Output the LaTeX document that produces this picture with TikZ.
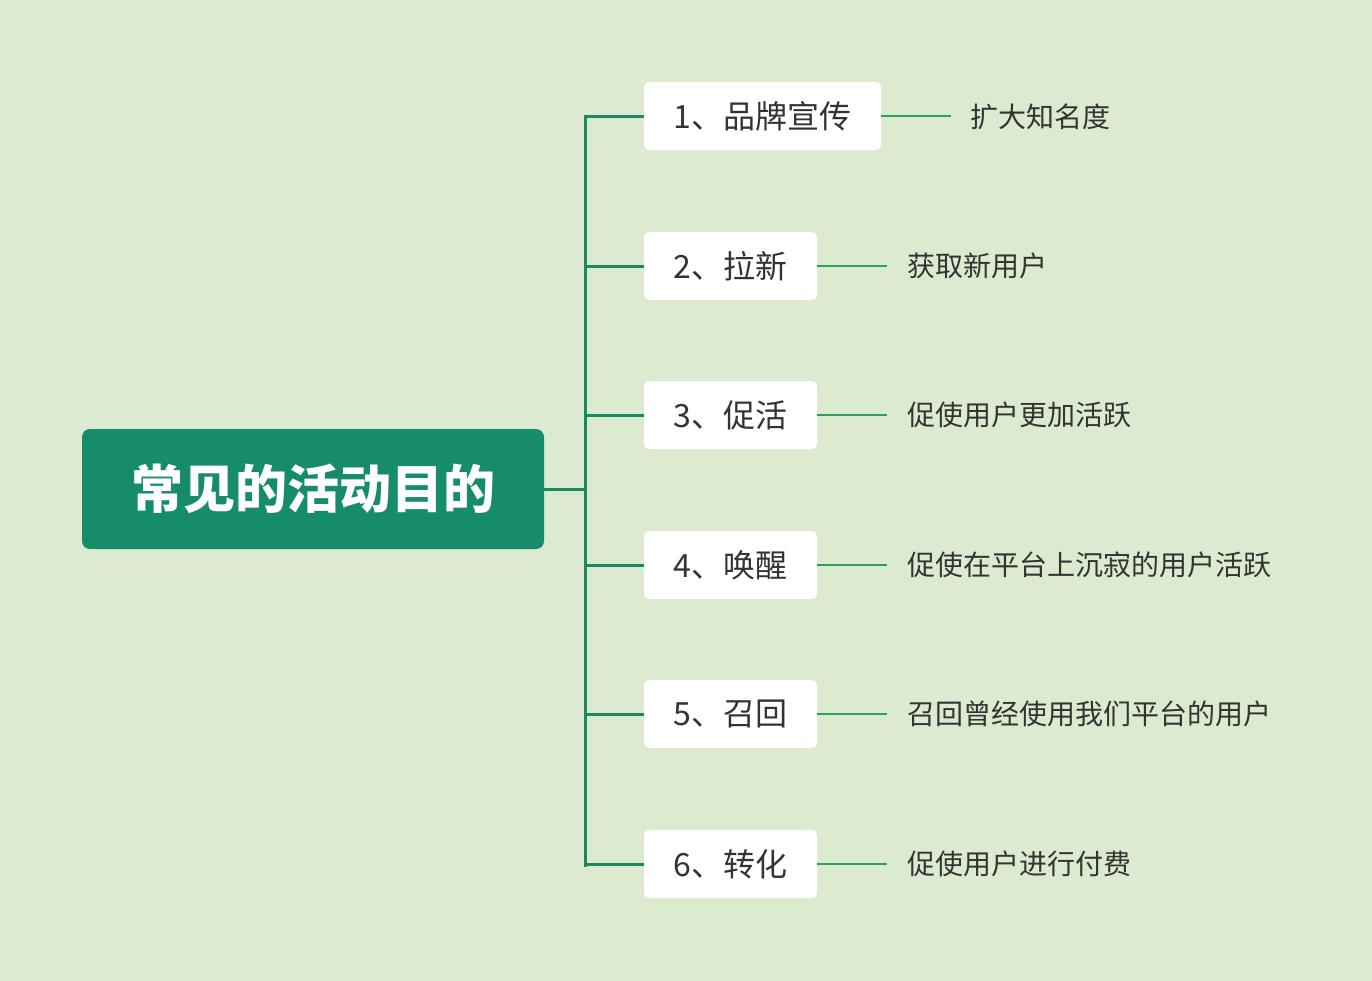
\documentclass[tikz,border=0pt]{standalone}
\usepackage{fontspec}
\setmainfont{Noto Sans CJK SC}
\definecolor{bg}{HTML}{DCEBD0}
\definecolor{rootc}{HTML}{178C6B}
\definecolor{branchc}{HTML}{1A8A62}
\definecolor{leafc}{HTML}{2E9E5E}
\definecolor{txt}{HTML}{333333}
\begin{document}
\begin{tikzpicture}[x=1pt,y=-1pt,
  rootbox/.style={fill=rootc,rounded corners=8pt,minimum width=462pt,minimum height=120pt,inner sep=0pt,text=white,font=\fontsize{52}{58}\selectfont\bfseries},
  catbox/.style={fill=white,rounded corners=5pt,minimum height=68pt,inner sep=0pt,text=txt,font=\fontsize{32}{37}\selectfont},
  leaf/.style={anchor=west,inner sep=0pt,text=txt,font=\fontsize{28}{33}\selectfont},
  branch/.style={draw=branchc,line width=3pt},
  leafline/.style={draw=leafc,line width=1.6pt}]
\useasboundingbox (0,0) rectangle (1372,980);
\fill[bg] (-5,-5) rectangle (1377,985);
\node[rootbox] (root) at (313,489) {常见的活动目的};
\coordinate (ttop) at (585,116);
\coordinate (tbot) at (585,865);
\draw[branch] (root.east) -- (root.east -| ttop);
\draw[branch,line cap=rect] (ttop) -- (tbot);
\node[catbox,minimum width=237pt] (c1) at (762.5,116) {1、品牌宣传};
\node[catbox,minimum width=173pt] (c2) at (730.5,266) {2、拉新};
\node[catbox,minimum width=173pt] (c3) at (730.5,415) {3、促活};
\node[catbox,minimum width=173pt] (c4) at (730.5,565) {4、唤醒};
\node[catbox,minimum width=173pt] (c5) at (730.5,714) {5、召回};
\node[catbox,minimum width=173pt] (c6) at (730.5,864) {6、转化};
\foreach \i in {1,...,6} {
  \draw[branch] (ttop |- c\i.west) -- (c\i.west);
}
\node[leaf] (l1) at (970,117) {扩大知名度};
\node[leaf] (l2) at (907,266) {获取新用户};
\node[leaf] (l3) at (907,415) {促使用户更加活跃};
\node[leaf] (l4) at (907,565) {促使在平台上沉寂的用户活跃};
\node[leaf] (l5) at (907,714) {召回曾经使用我们平台的用户};
\node[leaf] (l6) at (907,864) {促使用户进行付费};
\foreach \i in {1,...,6} {
  \draw[leafline] (c\i.east) -- ++(70,0);
}
\end{tikzpicture}
\end{document}
